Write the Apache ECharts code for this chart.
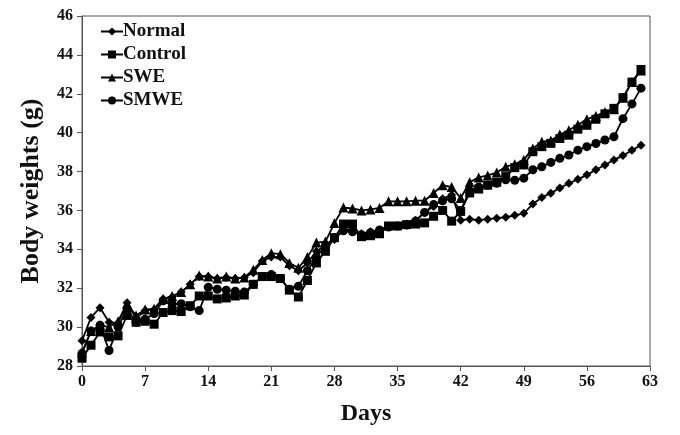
<!DOCTYPE html>
<html><head><meta charset="utf-8">
<script src="https://cdn.jsdelivr.net/npm/echarts@6/dist/echarts.min.js"></script>
<style>html,body{margin:0;padding:0;background:#fff}#c{width:680px;height:435px}</style>
</head><body><div id="c"></div>
<script>
const days = Array.from({length: 63}, (_, i) => i);
const xTicks = [0, 7, 14, 21, 28, 35, 42, 49, 56, 63];
const normal = [29.3,30.5,31.0,30.25,30.2,31.25,30.45,30.85,30.9,31.45,31.55,31.8,32.2,32.6,32.6,32.5,32.55,32.5,32.55,32.8,33.4,33.6,33.6,33.15,32.9,33.3,33.9,34.2,34.5,35.0,35.0,34.8,34.9,35.0,35.2,35.2,35.3,35.5,35.9,36.2,36.6,36.8,35.5,35.55,35.5,35.55,35.6,35.65,35.75,35.85,36.33,36.67,36.89,37.15,37.4,37.6,37.83,38.09,38.34,38.6,38.82,39.1,39.35];
const control = [28.4,29.07,29.75,29.5,29.55,30.6,30.25,30.3,30.15,30.75,30.85,30.8,31.1,31.6,31.6,31.45,31.5,31.6,31.65,32.2,32.6,32.6,32.5,31.9,31.55,32.4,33.3,33.9,34.6,35.3,35.3,34.65,34.7,34.8,35.2,35.2,35.27,35.3,35.36,35.7,36.0,35.45,35.95,36.9,37.1,37.3,37.45,37.74,38.2,38.34,39.02,39.28,39.45,39.7,39.87,40.18,40.38,40.69,40.97,41.25,41.8,42.6,43.25];
const swe = [28.7,29.8,30.1,30.0,30.3,31.2,30.6,30.9,30.95,31.45,31.6,31.8,32.2,32.65,32.6,32.5,32.6,32.5,32.55,32.95,33.45,33.8,33.75,33.3,33.05,33.6,34.35,34.4,35.35,36.15,36.1,36.0,36.05,36.13,36.47,36.47,36.47,36.5,36.5,36.9,37.3,37.2,36.64,37.45,37.7,37.8,37.95,38.25,38.37,38.6,39.19,39.53,39.6,39.9,40.12,40.41,40.69,40.86,41.06,41.2,41.8,42.6,43.2];
const smwe = [28.65,29.8,30.1,28.8,30.0,30.95,30.25,30.4,30.7,31.35,31.2,31.2,31.05,30.85,32.05,31.95,31.9,31.85,31.8,32.2,32.6,32.7,32.5,31.95,32.1,32.9,33.6,34.2,34.6,34.95,34.9,34.75,34.85,35.0,35.15,35.2,35.25,35.45,35.9,36.3,36.5,36.6,36.0,37.0,37.2,37.3,37.4,37.58,37.55,37.66,38.09,38.25,38.47,38.68,38.85,39.1,39.28,39.44,39.62,39.79,40.72,41.48,42.29];
const seriesNames = ['Normal', 'Control', 'SWE', 'SMWE'];
const seriesValues = [normal, control, swe, smwe];
const symbols = ['diamond', 'rect', 'triangle', 'circle'];
const symbolSizes = [9, 9, 10, 9];

const font = "'Liberation Serif', 'Times New Roman', serif";
const chart = echarts.init(document.getElementById('c'), null, {renderer: 'canvas'});
chart.setOption({
  animation: false,
  backgroundColor: '#fff',
  grid: {left: 82, right: 30, top: 16, bottom: 69, show: true, borderColor: '#555', borderWidth: 1},
  legend: {
    orient: 'vertical', left: 95, top: 17, itemGap: 4, itemWidth: 22, itemHeight: 10,
    data: seriesNames,
    textStyle: {fontFamily: font, fontWeight: 'bold', fontSize: 19, color: '#111', padding: [0,0,0,-5]}
  },
  xAxis: {
    type: 'value', min: 0, max: 63, interval: 7,
    name: 'Days', nameLocation: 'middle', nameGap: 36,
    nameTextStyle: {fontFamily: font, fontWeight: 'bold', fontSize: 24, color: '#111'},
    axisLine: {lineStyle: {color: '#555', width: 1}},
    axisTick: {inside: false, length: 5, lineStyle: {color: '#555'}},
    axisLabel: {fontFamily: font, fontWeight: 'bold', fontSize: 16, color: '#111', margin: 8,
      formatter: v => xTicks.includes(v) ? String(v) : ''},
    splitLine: {show: false}
  },
  yAxis: {
    type: 'value', min: 28, max: 46, interval: 2,
    name: 'Body weights (g)', nameLocation: 'middle', nameGap: 38,
    nameTextStyle: {fontFamily: font, fontWeight: 'bold', fontSize: 26, color: '#111'},
    axisLine: {show: true, lineStyle: {color: '#555', width: 1}},
    axisTick: {show: true, inside: false, length: 5, lineStyle: {color: '#555'}},
    axisLabel: {fontFamily: font, fontWeight: 'bold', fontSize: 16, color: '#111', margin: 9},
    splitLine: {show: false}
  },
  series: seriesNames.map((n, i) => ({
    name: n, type: 'line',
    data: days.map((d, j) => [d, seriesValues[i][j]]),
    symbol: symbols[i], symbolSize: symbolSizes[i], showAllSymbol: true,
    itemStyle: {color: '#000'},
    lineStyle: {color: '#000', width: 1.8}
  }))
});
</script></body></html>
